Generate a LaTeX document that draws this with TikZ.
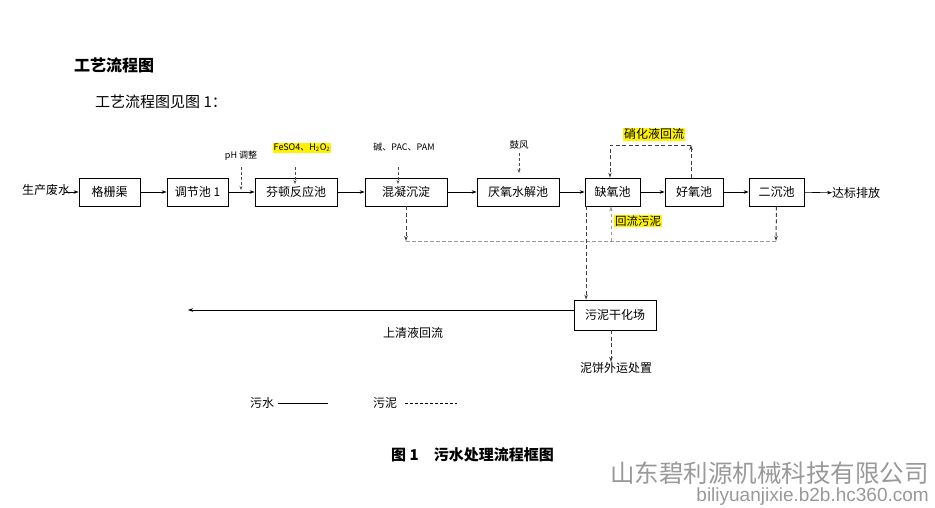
\documentclass[tikz,border=0pt]{standalone}
\usepackage{fontspec}
\setmainfont{Noto Sans CJK SC}
\newfontfamily\wmlatin{Liberation Sans}
\usetikzlibrary{arrows.meta}
\begin{document}
\begin{tikzpicture}[x=1pt,y=-1pt,
  box/.style={draw, line width=0.8pt, minimum height=28pt, inner sep=0pt, font=\fontsize{12}{12}\selectfont},
  lbl/.style={inner sep=0pt, font=\fontsize{12}{12}\selectfont},
  small/.style={inner sep=0pt, font=\fontsize{9}{9}\selectfont},
  hl/.style={fill=yellow, inner sep=1pt},
  flow/.style={-{Stealth[length=5pt,width=3.5pt]}, line width=0.6pt},
  sludge/.style={dash pattern=on 4pt off 2.5pt, line width=1pt, black!75, -{Stealth[length=5pt,width=3.5pt]}},
  sludgegray/.style={dash pattern=on 3.5pt off 2.5pt, line width=1pt, black!40},
  sludgegrayarrow/.style={sludgegray, -{Stealth[length=5pt,width=3.5pt]}},
  ann/.style={dash pattern=on 3pt off 2pt, line width=0.8pt, black!70, -{Stealth[length=4pt,width=3pt]}}
]
\useasboundingbox[fill=white] (0,0) rectangle (935,507);

% titles
\node[inner sep=0pt, anchor=west, font=\fontsize{16}{16}\selectfont\bfseries] (title) at (74,65) {工艺流程图};
\node[inner sep=0pt, anchor=west, font=\fontsize{15}{15}\selectfont] (sub) at (95,102) {工艺流程图见图 1：};

% main boxes
\node[box, minimum width=61pt] (g) at (109.5,192) {格栅渠};
\node[box, minimum width=61pt] (t) at (197.5,192) {调节池 1};
\node[box, minimum width=82pt] (f) at (296,192) {芬顿反应池};
\node[box, minimum width=82pt] (m) at (406,192) {混凝沉淀};
\node[box, minimum width=82pt] (a) at (518,192) {厌氧水解池};
\node[box, minimum width=55pt] (q) at (612.5,192) {缺氧池};
\node[box, minimum width=58pt] (h) at (694,192) {好氧池};
\node[box, minimum width=55pt] (e) at (776.5,192) {二沉池};
\node[box, minimum width=82pt, minimum height=30pt] (d) at (615,315) {污泥干化场};

\node[lbl, anchor=west] (src) at (22,190) {生产废水};
\node[lbl, anchor=west] (out) at (832,193) {达标排放};

% main flow
\draw[flow] (64,192) -- (g.west);
\draw[flow] (g) -- (t);
\draw[flow] (t) -- (f);
\draw[flow] (f) -- (m);
\draw[flow] (m) -- (a);
\draw[flow] (a) -- (q);
\draw[flow] (q) -- (h);
\draw[flow] (h) -- (e);
\draw[flow] (e) -- (out);

% dosing annotations
\node[small, anchor=south] (ph) at (241,161) {pH 调整};
\coordinate (phend) at (241,190);
\draw[ann] (ph.south) ++(0,6) -- (phend);
\node[small, hl, anchor=south] (fe) at (302,153) {FeSO4、H\textsubscript{2}O\textsubscript{2}};
\draw[ann] (295,167) -- (295,184);
\node[small, anchor=south] (pac) at (404,151) {碱、PAC、PAM};
\draw[ann] (398,167) -- (398,184);
\node[small, font=\fontsize{9.5}{9.5}\selectfont, anchor=south] (air) at (519,149) {鼓风};
\draw[ann] (air.south) ++(0,4) -- ++(0,20);

% nitrification recycle
\node[lbl, hl, anchor=south] (nr) at (654,141) {硝化液回流};
\coordinate (nc1) at (691,145);
\coordinate (nc2) at (610,145);
\draw[sludge] (h.north -| nc1) -- (nc1);
\draw[sludge] (nc1) -- (nc2) -- (nc2 |- q.north);

% sludge lines
\coordinate (b1) at (406,241);
\coordinate (b2) at (776,241);
\coordinate (rr) at (611,241);
\draw[sludgegray] (b1) -- (b2);
\draw[sludge] (m.south) -- (b1);
\draw[sludge] (e.south) -- (b2);
\draw[sludgegrayarrow] (rr) -- (rr |- q.south);
\node[lbl, hl, font=\fontsize{11.5}{11.5}\selectfont, anchor=west] (rs) at (614,221) {回流污泥};

\coordinate (qs) at ([xshift=1.5pt]q.south west);
\draw[sludge] (qs) -- (qs |- d.north);

% supernatant return
\coordinate (ret) at (188,310);
\draw[flow] (d.west |- ret) -- (ret);
\node[lbl, anchor=center] (sup) at (413,333) {上清液回流};

% sludge cake
\node[lbl, anchor=north] (cake) at (616,362) {泥饼外运处置};
\coordinate (dk) at (611,0);
\draw[sludge] (d.south -| dk) -- (dk |- cake.north);

% legend
\node[lbl, anchor=west] (lw) at (250,403) {污水};
\coordinate (lw1) at (278,403);
\coordinate (lw2) at (328,403);
\draw[line width=0.6pt] (lw1) -- (lw2);
\node[lbl, anchor=west] (ls) at (373,403) {污泥};
\coordinate (ls1) at (405,403);
\coordinate (ls2) at (457,403);
\draw[dash pattern=on 3pt off 2pt, line width=0.6pt] (ls1) -- (ls2);

% caption
\node[inner sep=0pt, anchor=west, font=\fontsize{15}{15}\selectfont\bfseries] (cap) at (391,455) {图 1\quad 污水处理流程框图};

% watermark
\node[inner sep=0pt, anchor=east, text=black!40, font=\fontsize{24.5}{24.5}\selectfont] (wm1) at (929,473) {山东碧利源机械科技有限公司};
\node[inner sep=0pt, anchor=east, text=black!40, font=\wmlatin\fontsize{19}{19}\selectfont] (wm2) at (929,497) {biliyuanjixie.b2b.hc360.com};
\end{tikzpicture}
\end{document}
